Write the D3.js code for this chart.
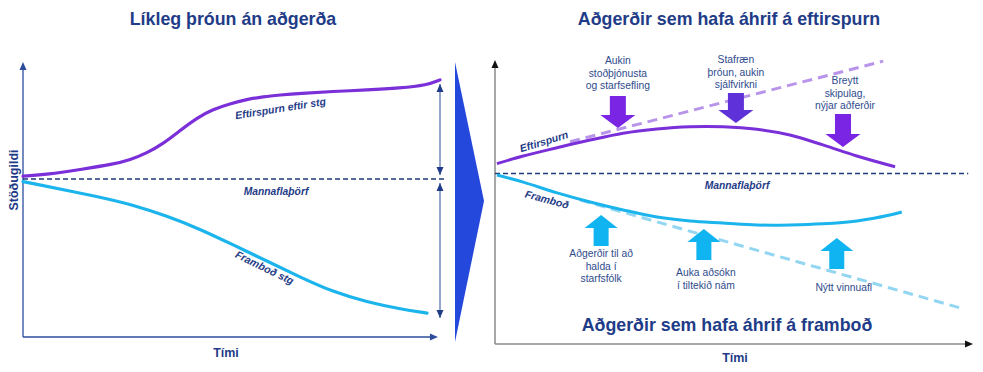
<!DOCTYPE html>
<html><head><meta charset="utf-8">
<script src="https://cdn.jsdelivr.net/npm/d3@7"></script>
<style>body{margin:0;background:#fff}svg{display:block}text{font-family:"Liberation Sans",Arial,sans-serif}</style>
</head><body>
<svg id="c" width="983" height="372"></svg>
<script>
// ---------- DATA ----------
// Left panel: likely development without action (time 0-100, value 0-100)
const leftDemandTime   = [0, 6, 13.7, 21.6, 25.7, 29.7, 33.6, 37.6, 41.7, 45.6, 49.6, 53.7, 57.6, 61.6, 66.4, 74.3, 82.5, 90.4, 96.9, 100];
const leftDemandValue  = [58.5, 59.1, 60.9, 62.8, 64.4, 66.9, 70.3, 75.0, 79.7, 82.8, 84.8, 86.4, 87.4, 88.0, 88.6, 89.3, 89.8, 90.5, 91.6, 93.5];
const leftSupplyTime   = [0, 18.5, 26.4, 34.5, 42.4, 50.4, 58.5, 66.4, 74.3, 82.5, 90.4, 96.9];
const leftSupplyValue  = [56.5, 50.9, 48, 44, 39.3, 33.5, 27.6, 21.8, 16.4, 12.7, 10.2, 8.7];
const leftNeedValue    = 57.5;
const leftGapTop       = [92, 58.9];   // demand gap arrow (value from, to)
const leftGapBottom    = [56, 6.9];    // supply gap arrow

// Right panel: actions
const rightDemandTime  = [0.4, 5.9, 13, 19.9, 26.8, 33.9, 40.8, 47.7, 54.8, 61.7, 68.6, 75.7, 83.7];
const rightDemandValue = [63.5, 66.2, 69.1, 71.8, 74.2, 75.7, 76.5, 76.5, 75.6, 73.6, 70.1, 66.2, 62.4];
const rightDemandTrendTime  = [15.7, 81.2];
const rightDemandTrendValue = [71.2, 99.6];
const rightSupplyTime  = [0.4, 5.9, 13, 19.9, 26.8, 33.9, 40.8, 47.7, 54.8, 61.7, 68.6, 75.7, 82.6, 85.1];
const rightSupplyValue = [59.5, 57, 53.2, 50, 47.2, 44.7, 43.3, 42.6, 41.9, 41.9, 42.3, 43.3, 45.4, 46.5];
const rightSupplyTrendTime  = [17.8, 97.3];
const rightSupplyTrendValue = [50.7, 12.7];
const rightNeedValue   = 60;

const demandActions     = [["Aukin","stoðþjónusta","og starfsefling"],["Stafræn","þróun, aukin","sjálfvirkni"],["Breytt","skipulag,","nýjar aðferðir"]];
const demandActionTime  = [25.7, 50.4, 72.8];
const demandActionValue = [76.1, 77.8, 69.4];
const supplyActions     = [["Aðgerðir til að","halda í","starfsfólk"],["Auka aðsókn","í tiltekið nám"],["Nýtt vinnuafl"]];
const supplyActionTime  = [22.2, 43.7, 71.5];
const supplyActionValue = [45.4, 40.5, 37.3];

const titles = ["Líkleg þróun án aðgerða","Aðgerðir sem hafa áhrif á eftirspurn","Aðgerðir sem hafa áhrif á framboð"];
const axisLabels = ["Stöðugildi","Tími"];
const seriesLabels = ["Eftirspurn eftir stg","Mannaflaþörf","Framboð stg","Eftirspurn","Framboð"];

// ---------- STYLE ----------
const NAVY = "#1f3c88", PURPLE = "#7a2fd8", CYAN = "#1cb4ec", LABEL = "#2e4b8c";
const svg = d3.select("#c");

const xL = d3.scaleLinear([0,100],[23,440]);
const yL = d3.scaleLinear([0,100],[337,62]);
const xR = d3.scaleLinear([0,100],[495,973]);
const yR = d3.scaleLinear([0,100],[344,60]);

function tri(g, x, y, dir, len, w, fill){
  let p;
  if(dir==="up") p=[[x,y],[x-w/2,y+len],[x+w/2,y+len]];
  else if(dir==="down") p=[[x,y],[x-w/2,y-len],[x+w/2,y-len]];
  else p=[[x,y],[x-len,y-w/2],[x-len,y+w/2]];
  g.append("polygon").attr("points",p.map(d=>d.join(",")).join(" ")).attr("fill",fill);
}
const zip = (a,b)=>a.map((d,i)=>[d,b[i]]);

// ---------- TITLES ----------
svg.append("text").attr("x",233).attr("y",25).attr("text-anchor","middle")
  .attr("font-size",17.8).attr("font-weight","bold").attr("fill",NAVY).text(titles[0]);
svg.append("text").attr("x",729).attr("y",25).attr("text-anchor","middle")
  .attr("font-size",17.8).attr("font-weight","bold").attr("fill",NAVY).text(titles[1]);
svg.append("text").attr("x",727).attr("y",331).attr("text-anchor","middle")
  .attr("font-size",17.8).attr("font-weight","bold").attr("fill",NAVY).text(titles[2]);

// ---------- LEFT PANEL ----------
const gl = svg.append("g");
const LAX = "#2c4c9c";
gl.append("line").attr("x1",xL(0)).attr("y1",yL(0)).attr("x2",xL(0)).attr("y2",yL(100)+6).attr("stroke",LAX).attr("stroke-width",1.3);
tri(gl, xL(0), yL(100), "up", 8, 7, LAX);
gl.append("line").attr("x1",xL(0)).attr("y1",yL(0)).attr("x2",xL(99.5)-6).attr("y2",yL(0)).attr("stroke",LAX).attr("stroke-width",1.3);
tri(gl, xL(99.5), yL(0), "right", 8, 7, LAX);

gl.append("line").attr("x1",xL(0)).attr("x2",xL(101.5)).attr("y1",yL(leftNeedValue)).attr("y2",yL(leftNeedValue))
  .attr("stroke","#1f3a78").attr("stroke-width",1.5).attr("stroke-dasharray","5,3");

const lineL = d3.line().x(d=>xL(d[0])).y(d=>yL(d[1])).curve(d3.curveBasis);
gl.append("path").attr("d",lineL(zip(leftSupplyTime,leftSupplyValue))).attr("fill","none").attr("stroke",CYAN).attr("stroke-width",3.2).attr("stroke-linecap","round");
gl.append("path").attr("d",lineL(zip(leftDemandTime,leftDemandValue))).attr("fill","none").attr("stroke",PURPLE).attr("stroke-width",3.2).attr("stroke-linecap","round");

// gap arrows
[leftGapTop,leftGapBottom].forEach(g=>{
  const x = xL(100);
  gl.append("line").attr("x1",x).attr("x2",x).attr("y1",yL(g[0])).attr("y2",yL(g[1])).attr("stroke",LAX).attr("stroke-width",1);
  tri(gl, x, yL(g[0]), "up", 8, 7, NAVY);
  tri(gl, x, yL(g[1]), "down", 8, 7, NAVY);
});

gl.append("text").attr("transform","translate(281,112) rotate(-9)").attr("text-anchor","middle")
  .attr("font-size",10.5).attr("font-weight","bold").attr("font-style","italic").attr("fill",NAVY).text(seriesLabels[0]);
gl.append("text").attr("x",276).attr("y",195).attr("text-anchor","middle")
  .attr("font-size",10.3).attr("font-weight","bold").attr("font-style","italic").attr("fill",NAVY).text(seriesLabels[1]);
gl.append("text").attr("transform","translate(263,271) rotate(26)").attr("text-anchor","middle")
  .attr("font-size",10.5).attr("font-weight","bold").attr("font-style","italic").attr("fill",NAVY).text(seriesLabels[2]);

gl.append("text").attr("transform","translate(18,180) rotate(-90)").attr("text-anchor","middle")
  .attr("font-size",12.5).attr("font-weight","bold").attr("fill",NAVY).text(axisLabels[0]);
gl.append("text").attr("x",226).attr("y",357).attr("text-anchor","middle")
  .attr("font-size",12.5).attr("font-weight","bold").attr("fill",NAVY).text(axisLabels[1]);

// big chevron
svg.append("polygon").attr("points","455,62 484,201 455,342").attr("fill","#2548dc");

// ---------- RIGHT PANEL ----------
const gr = svg.append("g");
gr.append("line").attr("x1",xR(0)).attr("y1",yR(0)).attr("x2",xR(0)).attr("y2",yR(100)+6).attr("stroke","#8a8a8a").attr("stroke-width",1.5);
tri(gr, xR(0), yR(100), "up", 8, 7, "#111");
gr.append("line").attr("x1",xR(0)).attr("y1",yR(0)).attr("x2",xR(100)-6).attr("y2",yR(0)).attr("stroke","#8a8a8a").attr("stroke-width",1.5);
tri(gr, xR(100), yR(0), "right", 8, 7, "#111");

gr.append("line").attr("x1",xR(0)).attr("x2",xR(99)).attr("y1",yR(rightNeedValue)).attr("y2",yR(rightNeedValue))
  .attr("stroke","#1f3a78").attr("stroke-width",1.5).attr("stroke-dasharray","5,3");

const lineR = d3.line().x(d=>xR(d[0])).y(d=>yR(d[1])).curve(d3.curveCatmullRom.alpha(0.5));
gr.append("path").attr("d",lineR(zip(rightDemandTrendTime,rightDemandTrendValue))).attr("fill","none").attr("stroke","#b894ea").attr("stroke-width",3).attr("stroke-dasharray","10,6");
gr.append("path").attr("d",lineR(zip(rightSupplyTrendTime,rightSupplyTrendValue))).attr("fill","none").attr("stroke","#93d6f2").attr("stroke-width",3).attr("stroke-dasharray","10,6");
gr.append("path").attr("d",lineR(zip(rightDemandTime,rightDemandValue))).attr("fill","none").attr("stroke",PURPLE).attr("stroke-width",3);
gr.append("path").attr("d",lineR(zip(rightSupplyTime,rightSupplyValue))).attr("fill","none").attr("stroke",CYAN).attr("stroke-width",3);

// block arrows
function blockArrow(g, x, tipY, dir, total, headLen, headW, shaftW, fill){
  const s = dir==="down" ? -1 : 1;   // direction from tip to tail
  const hb = tipY + s*headLen, tail = tipY + s*total;
  const p = [[x,tipY],[x+headW/2,hb],[x+shaftW/2,hb],[x+shaftW/2,tail],[x-shaftW/2,tail],[x-shaftW/2,hb],[x-headW/2,hb]];
  g.append("polygon").attr("points",p.map(d=>d.join(",")).join(" ")).attr("fill",fill);
}
const purpleFills = ["#7a24e4","#5e32d8","#7a24e4"];
const purpleLens = [32,30,33];
demandActionTime.forEach((t,i)=>{
  blockArrow(gr, xR(t), yR(demandActionValue[i]), "down", purpleLens[i], 13, 35, 16, purpleFills[i]);
});
supplyActionTime.forEach((t,i)=>{
  blockArrow(gr, xR(t), yR(supplyActionValue[i]), "up", 31, 13, 33, 15, "#10b4f0");
});

// action labels
const demandLabelY = [64, 63, 84];
demandActions.forEach((lines,i)=>{
  const t = gr.append("text").attr("text-anchor","middle").attr("font-size",10.3).attr("fill",LABEL);
  lines.forEach((l,j)=>t.append("tspan").attr("x",xR(demandActionTime[i])+ (i===2?2:0)).attr("y",demandLabelY[i]+j*12.5).text(l));
});
const supplyLabelY = [257, 276, 291];
const supplyLabelDx = [0, 2, 7];
supplyActions.forEach((lines,i)=>{
  const t = gr.append("text").attr("text-anchor","middle").attr("font-size",10.3).attr("fill",LABEL);
  lines.forEach((l,j)=>t.append("tspan").attr("x",xR(supplyActionTime[i])+supplyLabelDx[i]).attr("y",supplyLabelY[i]+j*12.5).text(l));
});

gr.append("text").attr("transform","translate(545,145) rotate(-17)").attr("text-anchor","middle")
  .attr("font-size",10.5).attr("font-weight","bold").attr("font-style","italic").attr("fill",NAVY).text(seriesLabels[3]);
gr.append("text").attr("transform","translate(546,203) rotate(15)").attr("text-anchor","middle")
  .attr("font-size",10.5).attr("font-weight","bold").attr("font-style","italic").attr("fill",NAVY).text(seriesLabels[4]);
gr.append("text").attr("x",737).attr("y",189).attr("text-anchor","middle")
  .attr("font-size",10.3).attr("font-weight","bold").attr("font-style","italic").attr("fill",NAVY).text(seriesLabels[1]);
gr.append("text").attr("x",735).attr("y",362).attr("text-anchor","middle")
  .attr("font-size",12.5).attr("font-weight","bold").attr("fill",NAVY).text(axisLabels[1]);
</script>
</body></html>
